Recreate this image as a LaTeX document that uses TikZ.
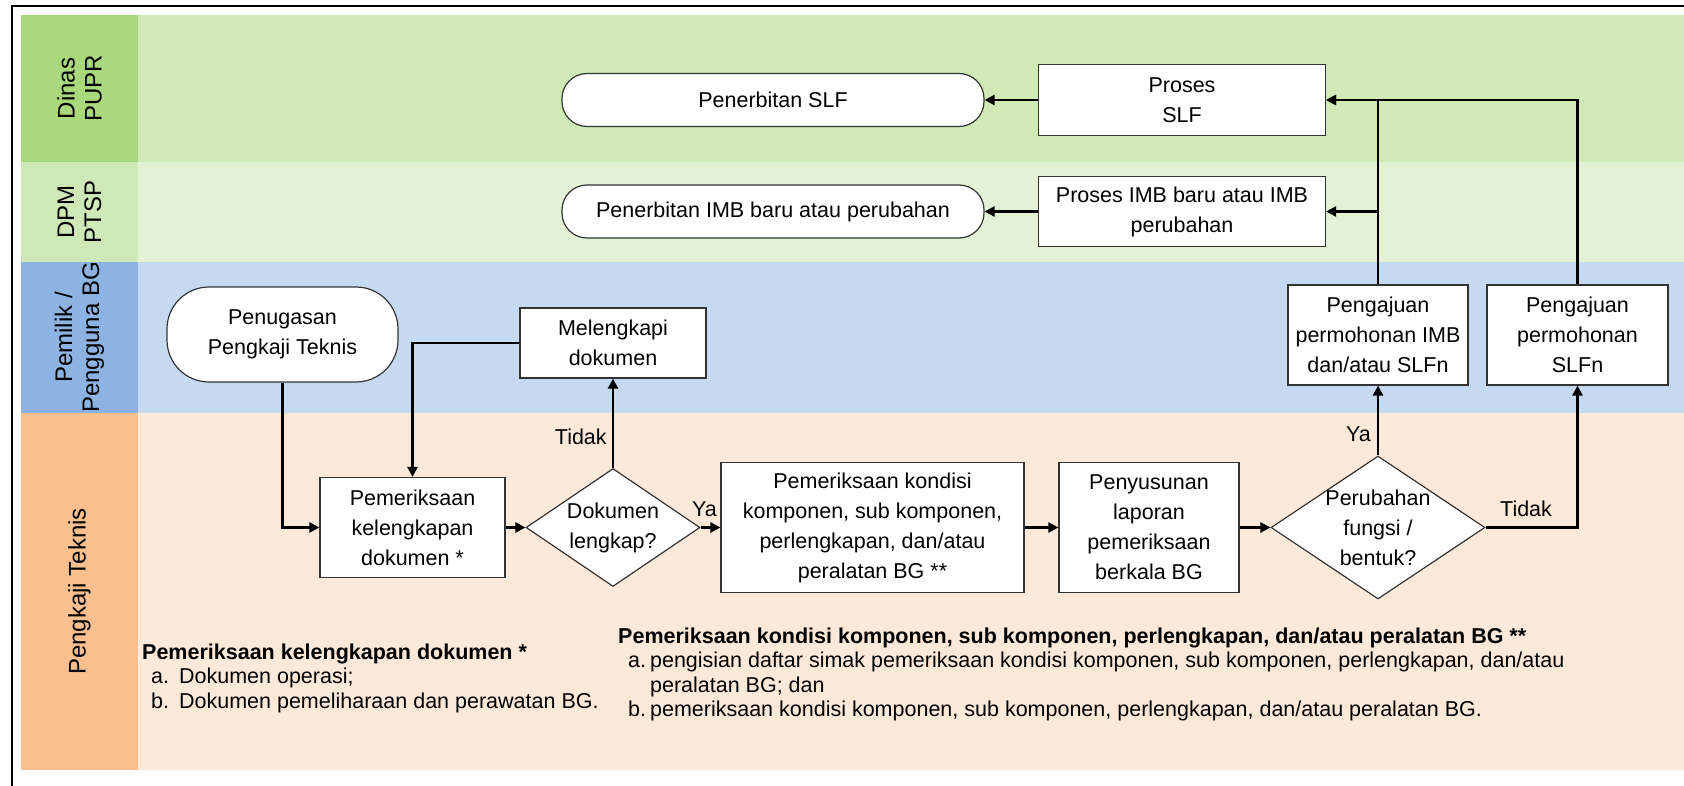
\documentclass[tikz,border=0pt]{standalone}
\usepackage{fontspec}
\setmainfont{Liberation Sans}
\usetikzlibrary{arrows.meta, shapes.geometric}
\definecolor{pupLab}{HTML}{A9D97C}
\definecolor{pupBody}{HTML}{D0E9B7}
\definecolor{dpmLab}{HTML}{CFE8B8}
\definecolor{dpmBody}{HTML}{E3F1D5}
\definecolor{pemLab}{HTML}{8DB3E2}
\definecolor{pemBody}{HTML}{C5D9F1}
\definecolor{pkjLab}{HTML}{F9BF8F}
\definecolor{pkjBody}{HTML}{FDE9D9}
\tikzset{
  proc/.style={rectangle, draw=black!80, line width=1.2pt, fill=white, align=center, inner sep=0pt},
  term/.style={proc, rounded corners=25pt},
  decision/.style={diamond, draw=black!80, line width=1.2pt, fill=white, align=center, inner sep=-14pt},
  flow/.style={-{Triangle[length=10pt, width=10pt]}, line width=2.6pt},
  lanelab/.style={rotate=90, align=center, font=\fontsize{24}{27}\selectfont},
  note/.style={anchor=base west, inner sep=0pt, font=\fontsize{21.5}{24.5}\selectfont},
  every node/.append style={font=\fontsize{21.5}{30}\selectfont}
}

\begin{document}
\begin{tikzpicture}[x=1pt, y=-1pt]
\useasboundingbox (0,0) rectangle (1684,786);
\foreach \ytop/\ybot/\lab/\body in {15/162/pupLab/pupBody, 162/262/dpmLab/dpmBody, 262/413/pemLab/pemBody, 413/770/pkjLab/pkjBody} {
  \fill[\body] (21,\ytop) rectangle (1684,\ybot);
  \fill[\lab] (21,\ytop) rectangle (138,\ybot);
}
\draw[line width=1.6pt] (12,786) -- (12,6) -- (1684,6);
\node[lanelab] (lanePUPR) at (79.5,88.5) {Dinas\\PUPR};
\node[lanelab] (laneDPM) at (79.5,212) {DPM\\PTSP};
\node[lanelab] (lanePemilik) at (79.5,337.5) {Pemilik /\\Pengguna BG};
\node[lanelab] (lanePengkaji) at (79.5,591.5) {Pengkaji Teknis};

\node[term, minimum width=422pt, minimum height=53pt] (penerbitanSLF) at (773,100) {Penerbitan SLF};
\node[proc, minimum width=287pt, minimum height=71pt] (prosesSLF) at (1182,100) {Proses\\SLF};
\node[term, minimum width=422pt, minimum height=53pt] (penerbitanIMB) at (773,211.5) {Penerbitan IMB baru atau perubahan};
\node[proc, minimum width=287pt, minimum height=70pt] (prosesIMB) at (1182,211.5) {Proses IMB baru atau IMB\\perubahan};
\node[term, rounded corners=42pt, minimum width=231pt, minimum height=95pt] (penugasan) at (282.5,334.5) {Penugasan\\Pengkaji Teknis};
\node[proc, minimum width=186pt, minimum height=70pt] (melengkapi) at (613,343) {Melengkapi\\dokumen};
\node[proc, minimum width=180pt, minimum height=100pt] (pengajuanIMB) at (1378,335) {Pengajuan\\permohonan IMB\\dan/atau SLFn};
\node[proc, minimum width=181pt, minimum height=100pt] (pengajuanSLFn) at (1577.5,335) {Pengajuan\\permohonan\\SLFn};
\node[proc, minimum width=185pt, minimum height=100pt] (pemeriksaanKel) at (412.5,527.5) {Pemeriksaan\\kelengkapan\\dokumen *};
\node[decision, minimum width=174pt, minimum height=118pt] (dokLengkap) at (613,527.5) {Dokumen\\lengkap?};
\node[proc, minimum width=303pt, minimum height=130pt] (kondisi) at (872.5,527.5) {Pemeriksaan kondisi\\komponen, sub komponen,\\perlengkapan, dan/atau\\peralatan BG **};
\node[proc, minimum width=180pt, minimum height=130pt] (penyusunan) at (1149,527.5) {Penyusunan\\laporan\\pemeriksaan\\berkala BG};
\node[decision, minimum width=214pt, minimum height=143pt] (perubahan) at (1378,527.5) {Perubahan\\fungsi /\\bentuk?};

\draw[flow] (prosesSLF.west) -- (penerbitanSLF.east);
\draw[flow] (prosesIMB.west) -- (penerbitanIMB.east);
\draw[flow] (pengajuanSLFn.north) |- (prosesSLF.east);
\draw[flow] (pengajuanIMB.north) |- (prosesSLF.east);
\draw[flow] (pengajuanIMB.north |- prosesIMB.east) -- (prosesIMB.east);
\draw[flow] (penugasan.south) |- (pemeriksaanKel.west);
\draw[flow] (melengkapi.west) -| (pemeriksaanKel.north);
\draw[flow] (pemeriksaanKel.east) -- (dokLengkap.west);
\draw[flow] (dokLengkap.north) -- node[pos=0.35, left=5pt, inner sep=0pt] (tidakDok) {Tidak} (melengkapi.south);
\draw[flow] (dokLengkap.east) -- node[pos=0.2, above=9pt, inner sep=0pt] (yaDok) {Ya} (kondisi.west);
\draw[flow] (kondisi.east) -- (penyusunan.west);
\draw[flow] (penyusunan.east) -- (perubahan.west);
\draw[flow] (perubahan.north) -- node[pos=0.3, left=6pt, inner sep=0pt] (yaUbah) {Ya} (pengajuanIMB.south);
\draw[flow] (perubahan.east) -| node[pos=0.22, above=9pt, inner sep=0pt] (tidakUbah) {Tidak} (pengajuanSLFn.south);

\node[note] (noteKel) at (142,659) {\begin{tabular}[t]{@{\hspace{9pt}}l@{\hspace{10pt}}l@{}}
\multicolumn{2}{@{}l@{}}{\bfseries Pemeriksaan kelengkapan dokumen *}\\
a. & Dokumen operasi;\\
b. & Dokumen pemeliharaan dan perawatan BG.
\end{tabular}};
\node[note] (noteKondisi) at (618,643) {\begin{tabular}[t]{@{\hspace{10pt}}l@{\hspace{4pt}}l@{}}
\multicolumn{2}{@{}l@{}}{\bfseries Pemeriksaan kondisi komponen, sub komponen, perlengkapan, dan/atau peralatan BG **}\\
a. & pengisian daftar simak pemeriksaan kondisi komponen, sub komponen, perlengkapan, dan/atau\\
   & peralatan BG; dan\\
b. & pemeriksaan kondisi komponen, sub komponen, perlengkapan, dan/atau peralatan BG.
\end{tabular}};
\end{tikzpicture}
\end{document}
